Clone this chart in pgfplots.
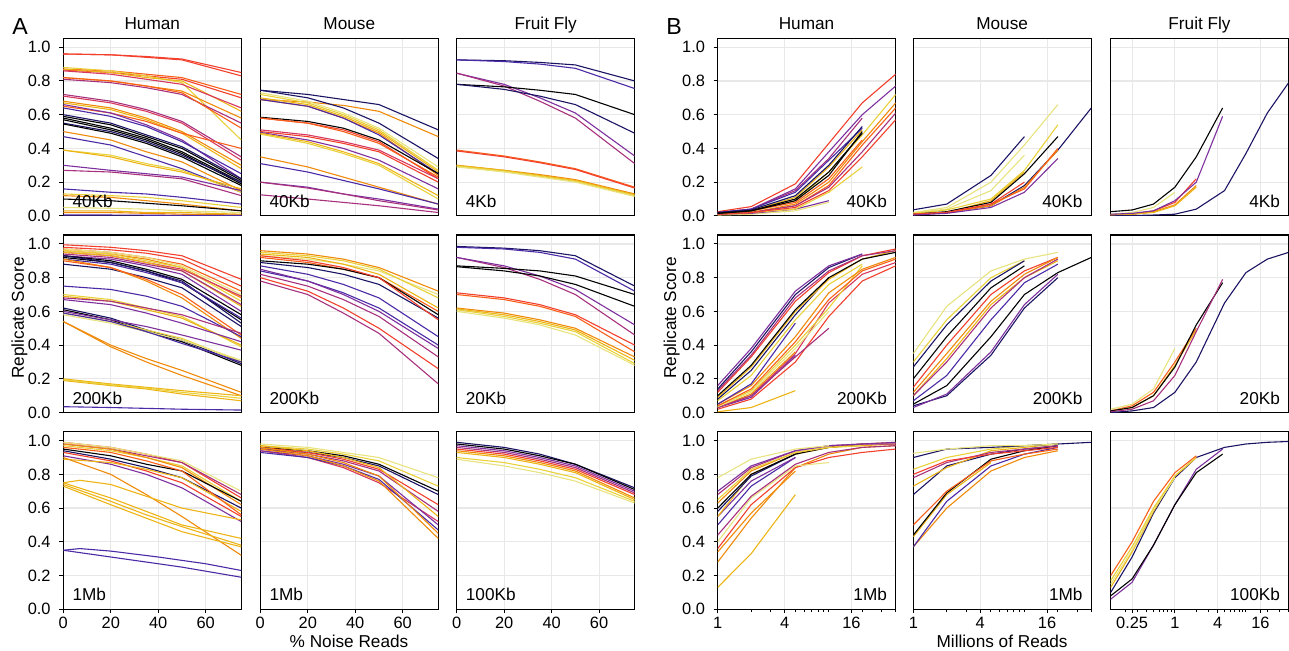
\documentclass[border=0pt]{standalone}
\usepackage{fontspec}
\setmainfont{Liberation Sans}
\usepackage{pgfplots}
\pgfplotsset{compat=1.18}
\definecolor{cK}{HTML}{000000}
\definecolor{cNv}{HTML}{1B1464}
\definecolor{cIn}{HTML}{4B2AA6}
\definecolor{cPu}{HTML}{7E2F9E}
\definecolor{cMg}{HTML}{A8317E}
\definecolor{cPk}{HTML}{D6385E}
\definecolor{cRd}{HTML}{F2402C}
\definecolor{cOr}{HTML}{FA5F1A}
\definecolor{cOg}{HTML}{F08A0A}
\definecolor{cGd}{HTML}{EDB416}
\definecolor{cYe}{HTML}{E9D13A}
\definecolor{cPy}{HTML}{E8E37F}
\newcommand\lab{\fontsize{8.6}{10}\selectfont}
\newcommand\tkf{\fontsize{8.2}{10}\selectfont}
\newcommand\A[6]{\addplot[#1] coordinates {(0,#2)(20,#3)(35,#4)(50,#5)(75,#6)};}
\pgfplotsset{
  base/.style={scale only axis, width=89pt, height=88.8pt, anchor=north west,
    ymin=0, ymax=1.053, ytick={0,0.2,0.4,0.6,0.8,1.0},
    grid=major, major grid style={line width=0.6pt, draw=black!9},
    axis line style={line width=0.6pt, black},
    tick align=outside, xtick pos=bottom, ytick pos=left,
    major tick length=2pt, minor tick length=1.2pt,
    tick style={line width=0.5pt, black},
    xticklabels={}, yticklabels={},
    xtick style={draw=none}, ytick style={draw=none},
    every axis plot/.append style={line width=0.55pt, mark=none, line join=round},
    /pgf/number format/assume math mode=true,
    yticklabel style={font=\tkf, inner sep=0pt, anchor=east, xshift=-4.15pt},
    xticklabel style={font=\tkf, inner sep=0pt, anchor=north, yshift=-1.6pt},
  },
  An/.style={xmin=0, xmax=75, xtick={0,20,40,60}},
  ylab/.style={yticklabels={0.0,0.2,0.4,0.6,0.8,1.0}, ytick style={draw=black}},
  xlabA/.style={xticklabels={0,20,40,60}, xtick style={draw=black}},
  xlabB/.style={xticklabels={1,4,16}, xtick style={draw=black}},
  xlabF/.style={xticklabels={0.25,1,4,16}, xtick style={draw=black}},
}
\newcommand\LL[1]{\node[anchor=south west, inner sep=0pt, font=\lab] at (rel axis cs:0,0) [xshift=4.4pt, yshift=4pt] {#1};}
\newcommand\LR[1]{\node[anchor=south east, inner sep=0pt, font=\lab] at (rel axis cs:1,0) [xshift=-4.2pt, yshift=4pt] {#1};}
\begin{document}
\begin{tikzpicture}
\path[use as bounding box] (0,0) rectangle (644.5pt,325.5pt);
% ---------------- Panel A, row 1 ----------------
\begin{axis}[base, An, ylab, at={(31.65pt,306.35pt)}]
\A{cRd}{0.96}{0.955}{0.945}{0.93}{0.85}
\A{cRd}{0.96}{0.955}{0.94}{0.925}{0.83}
\A{cOr}{0.87}{0.86}{0.84}{0.82}{0.72}
\A{cRd}{0.865}{0.85}{0.83}{0.81}{0.70}
\A{cYe}{0.88}{0.86}{0.83}{0.79}{0.45}
\A{cGd}{0.87}{0.85}{0.82}{0.80}{0.62}
\A{cPk}{0.86}{0.84}{0.81}{0.78}{0.64}
\A{cOg}{0.82}{0.80}{0.77}{0.74}{0.58}
\A{cMg}{0.81}{0.79}{0.76}{0.72}{0.55}
\A{cOr}{0.82}{0.80}{0.77}{0.73}{0.52}
\A{cMg}{0.72}{0.68}{0.63}{0.56}{0.35}
\A{cPk}{0.71}{0.67}{0.62}{0.55}{0.33}
\A{cOg}{0.68}{0.64}{0.58}{0.50}{0.30}
\A{cGd}{0.67}{0.63}{0.57}{0.49}{0.28}
\A{cOr}{0.65}{0.61}{0.56}{0.49}{0.40}
\A{cPu}{0.66}{0.61}{0.54}{0.45}{0.22}
\A{cIn}{0.64}{0.59}{0.53}{0.44}{0.25}
\A{cNv}{0.60}{0.55}{0.48}{0.41}{0.22}
\A{cK}{0.59}{0.54}{0.47}{0.40}{0.21}
\A{cK}{0.58}{0.52}{0.46}{0.38}{0.20}
\A{cK}{0.57}{0.51}{0.45}{0.37}{0.19}
\A{cNv}{0.55}{0.50}{0.44}{0.36}{0.20}
\A{cK}{0.545}{0.49}{0.43}{0.35}{0.18}
\A{cOg}{0.50}{0.45}{0.38}{0.32}{0.15}
\A{cIn}{0.47}{0.42}{0.35}{0.28}{0.14}
\A{cYe}{0.39}{0.36}{0.31}{0.27}{0.14}
\A{cGd}{0.39}{0.35}{0.30}{0.26}{0.16}
\A{cPu}{0.30}{0.27}{0.25}{0.23}{0.15}
\A{cMg}{0.27}{0.26}{0.24}{0.22}{0.12}
\A{cIn}{0.16}{0.14}{0.13}{0.11}{0.07}
\A{cYe}{0.13}{0.12}{0.11}{0.09}{0.05}
\A{cOg}{0.12}{0.11}{0.09}{0.07}{0.03}
\A{cK}{0.10}{0.09}{0.075}{0.06}{0.03}
\A{cPy}{0.05}{0.045}{0.04}{0.03}{0.02}
\A{cGd}{0.03}{0.03}{0.02}{0.02}{0.01}
\A{cOg}{0.02}{0.02}{0.015}{0.01}{0.005}
\A{cIn}{0.005}{0.005}{0.004}{0.003}{0.002}
\LL{40Kb}
\end{axis}
\begin{axis}[base, An, at={(130.15pt,306.35pt)}]
\A{cNv}{0.745}{0.72}{0.69}{0.66}{0.51}
\A{cOg}{0.69}{0.675}{0.655}{0.62}{0.47}
\A{cNv}{0.745}{0.70}{0.64}{0.55}{0.34}
\A{cPy}{0.73}{0.68}{0.61}{0.52}{0.29}
\A{cYe}{0.72}{0.67}{0.60}{0.51}{0.27}
\A{cGd}{0.70}{0.66}{0.59}{0.50}{0.26}
\A{cOg}{0.69}{0.65}{0.58}{0.49}{0.24}
\A{cIn}{0.69}{0.65}{0.58}{0.48}{0.25}
\A{cK}{0.585}{0.56}{0.52}{0.45}{0.25}
\A{cRd}{0.58}{0.55}{0.51}{0.44}{0.22}
\A{cOr}{0.58}{0.55}{0.50}{0.43}{0.23}
\A{cPk}{0.51}{0.48}{0.44}{0.39}{0.22}
\A{cRd}{0.50}{0.47}{0.43}{0.38}{0.20}
\A{cPu}{0.495}{0.45}{0.40}{0.33}{0.16}
\A{cGd}{0.49}{0.44}{0.38}{0.31}{0.12}
\A{cYe}{0.485}{0.43}{0.37}{0.30}{0.10}
\A{cOg}{0.35}{0.29}{0.23}{0.17}{0.07}
\A{cIn}{0.31}{0.26}{0.21}{0.16}{0.07}
\A{cPu}{0.20}{0.17}{0.13}{0.10}{0.04}
\A{cMg}{0.20}{0.165}{0.13}{0.09}{0.035}
\A{cMg}{0.125}{0.10}{0.08}{0.06}{0.02}
\LL{40Kb}
\end{axis}
\begin{axis}[base, An, at={(228.35pt,306.35pt)}]
\A{cNv}{0.925}{0.92}{0.91}{0.895}{0.80}
\A{cIn}{0.925}{0.915}{0.90}{0.875}{0.755}
\A{cPu}{0.846}{0.78}{0.70}{0.61}{0.355}
\A{cMg}{0.846}{0.77}{0.68}{0.58}{0.31}
\A{cK}{0.78}{0.765}{0.745}{0.72}{0.60}
\A{cNv}{0.78}{0.75}{0.71}{0.66}{0.49}
\A{cOr}{0.39}{0.355}{0.32}{0.28}{0.17}
\A{cRd}{0.385}{0.35}{0.315}{0.275}{0.165}
\A{cOg}{0.30}{0.27}{0.245}{0.215}{0.13}
\A{cGd}{0.30}{0.27}{0.24}{0.21}{0.125}
\A{cYe}{0.295}{0.265}{0.235}{0.205}{0.12}
\A{cPy}{0.29}{0.26}{0.23}{0.20}{0.115}
\LL{4Kb}
\end{axis}
% ---------------- Panel A, row 2 ----------------
\begin{axis}[base, An, ylab, at={(31.65pt,208pt)}]
\A{cRd}{0.995}{0.98}{0.96}{0.93}{0.79}
\A{cRd}{0.98}{0.965}{0.945}{0.91}{0.75}
\A{cOr}{0.97}{0.95}{0.92}{0.88}{0.72}
\A{cPy}{0.97}{0.95}{0.92}{0.87}{0.70}
\A{cOg}{0.96}{0.94}{0.91}{0.86}{0.68}
\A{cYe}{0.96}{0.94}{0.90}{0.86}{0.66}
\A{cPk}{0.95}{0.93}{0.89}{0.85}{0.69}
\A{cGd}{0.95}{0.93}{0.89}{0.84}{0.63}
\A{cMg}{0.94}{0.92}{0.88}{0.84}{0.64}
\A{cPu}{0.93}{0.91}{0.87}{0.82}{0.60}
\A{cK}{0.93}{0.90}{0.85}{0.79}{0.58}
\A{cK}{0.92}{0.89}{0.84}{0.77}{0.55}
\A{cNv}{0.93}{0.89}{0.84}{0.78}{0.53}
\A{cIn}{0.91}{0.88}{0.83}{0.77}{0.56}
\A{cNv}{0.88}{0.85}{0.80}{0.74}{0.51}
\A{cOg}{0.91}{0.86}{0.78}{0.68}{0.44}
\A{cOr}{0.90}{0.86}{0.79}{0.70}{0.46}
\A{cIn}{0.75}{0.73}{0.69}{0.63}{0.45}
\A{cYe}{0.70}{0.67}{0.62}{0.57}{0.39}
\A{cGd}{0.69}{0.66}{0.61}{0.56}{0.40}
\A{cMg}{0.68}{0.66}{0.62}{0.58}{0.47}
\A{cPu}{0.67}{0.64}{0.59}{0.53}{0.42}
\A{cNv}{0.62}{0.56}{0.49}{0.43}{0.29}
\A{cK}{0.61}{0.55}{0.48}{0.42}{0.28}
\A{cPu}{0.60}{0.55}{0.51}{0.46}{0.37}
\A{cYe}{0.59}{0.54}{0.49}{0.44}{0.30}
\A{cPy}{0.58}{0.53}{0.48}{0.43}{0.31}
\A{cIn}{0.59}{0.54}{0.48}{0.41}{0.30}
\A{cOg}{0.54}{0.40}{0.32}{0.25}{0.12}
\A{cOg}{0.54}{0.39}{0.30}{0.22}{0.10}
\A{cGd}{0.20}{0.17}{0.15}{0.13}{0.10}
\A{cGd}{0.19}{0.16}{0.14}{0.11}{0.07}
\A{cYe}{0.195}{0.165}{0.145}{0.12}{0.085}
\A{cIn}{0.035}{0.03}{0.025}{0.02}{0.015}
\LL{200Kb}
\end{axis}
\begin{axis}[base, An, at={(130.15pt,208pt)}]
\A{cOg}{0.96}{0.94}{0.91}{0.86}{0.72}
\A{cPy}{0.93}{0.91}{0.88}{0.84}{0.70}
\A{cYe}{0.95}{0.93}{0.90}{0.85}{0.68}
\A{cGd}{0.94}{0.92}{0.88}{0.82}{0.62}
\A{cOr}{0.92}{0.89}{0.85}{0.80}{0.60}
\A{cK}{0.90}{0.88}{0.85}{0.80}{0.58}
\A{cNv}{0.89}{0.86}{0.82}{0.76}{0.56}
\A{cRd}{0.93}{0.90}{0.86}{0.80}{0.55}
\A{cIn}{0.87}{0.82}{0.76}{0.68}{0.45}
\A{cIn}{0.84}{0.78}{0.71}{0.62}{0.40}
\A{cPu}{0.85}{0.78}{0.70}{0.60}{0.38}
\A{cMg}{0.82}{0.75}{0.67}{0.57}{0.33}
\A{cRd}{0.80}{0.72}{0.62}{0.50}{0.26}
\A{cMg}{0.78}{0.70}{0.59}{0.47}{0.17}
\LL{200Kb}
\end{axis}
\begin{axis}[base, An, at={(228.35pt,208pt)}]
\A{cNv}{0.985}{0.975}{0.96}{0.93}{0.75}
\A{cIn}{0.98}{0.97}{0.95}{0.91}{0.72}
\A{cMg}{0.92}{0.86}{0.79}{0.70}{0.46}
\A{cPu}{0.92}{0.87}{0.81}{0.73}{0.52}
\A{cK}{0.87}{0.855}{0.84}{0.81}{0.70}
\A{cK}{0.865}{0.84}{0.81}{0.76}{0.63}
\A{cRd}{0.71}{0.68}{0.64}{0.58}{0.40}
\A{cOr}{0.70}{0.67}{0.63}{0.57}{0.36}
\A{cOg}{0.62}{0.59}{0.55}{0.50}{0.33}
\A{cGd}{0.615}{0.58}{0.54}{0.49}{0.31}
\A{cYe}{0.61}{0.57}{0.53}{0.48}{0.29}
\A{cPy}{0.60}{0.56}{0.52}{0.46}{0.28}
\LL{20Kb}
\end{axis}
% ---------------- Panel A, row 3 ----------------
\begin{axis}[base, An, ylab, xlabA, at={(31.65pt,109.65pt)}]
\A{cRd}{0.99}{0.96}{0.92}{0.87}{0.66}
\A{cMg}{0.98}{0.95}{0.91}{0.87}{0.68}
\A{cPy}{0.99}{0.96}{0.92}{0.88}{0.70}
\A{cYe}{0.97}{0.94}{0.90}{0.85}{0.64}
\A{cOg}{0.98}{0.95}{0.90}{0.84}{0.62}
\A{cK}{0.95}{0.91}{0.86}{0.82}{0.64}
\A{cNv}{0.94}{0.89}{0.84}{0.78}{0.60}
\A{cRd}{0.93}{0.88}{0.82}{0.75}{0.55}
\A{cPu}{0.91}{0.86}{0.80}{0.72}{0.52}
\A{cGd}{0.89}{0.87}{0.83}{0.78}{0.58}
\A{cOr}{0.96}{0.93}{0.88}{0.82}{0.56}
\A{cOg}{0.90}{0.80}{0.68}{0.55}{0.32}
\addplot[cGd] coordinates {(0,0.75)(7,0.765)(20,0.74)(35,0.67)(50,0.60)(75,0.53)};
\A{cGd}{0.75}{0.66}{0.58}{0.50}{0.42}
\A{cGd}{0.74}{0.64}{0.56}{0.49}{0.38}
\A{cGd}{0.73}{0.62}{0.54}{0.46}{0.37}
\addplot[cIn] coordinates {(0,0.35)(7,0.36)(20,0.345)(40,0.31)(60,0.27)(75,0.23)};
\A{cIn}{0.35}{0.31}{0.28}{0.25}{0.19}
\LL{1Mb}
\end{axis}
\begin{axis}[base, An, xlabA, at={(130.15pt,109.65pt)}]
\A{cPy}{0.98}{0.96}{0.93}{0.90}{0.78}
\A{cYe}{0.97}{0.95}{0.92}{0.88}{0.73}
\A{cK}{0.96}{0.94}{0.91}{0.86}{0.70}
\A{cNv}{0.95}{0.93}{0.90}{0.85}{0.68}
\A{cRd}{0.96}{0.93}{0.89}{0.83}{0.62}
\A{cMg}{0.95}{0.92}{0.88}{0.82}{0.58}
\A{cGd}{0.97}{0.94}{0.90}{0.84}{0.55}
\A{cPk}{0.94}{0.90}{0.84}{0.75}{0.52}
\A{cPu}{0.94}{0.91}{0.86}{0.79}{0.50}
\A{cIn}{0.93}{0.90}{0.85}{0.77}{0.47}
\A{cOg}{0.96}{0.92}{0.87}{0.79}{0.45}
\A{cOg}{0.95}{0.91}{0.85}{0.76}{0.42}
\LL{1Mb}
\end{axis}
\begin{axis}[base, An, xlabA, at={(228.35pt,109.65pt)}]
\A{cNv}{0.99}{0.96}{0.92}{0.86}{0.72}
\A{cK}{0.98}{0.95}{0.91}{0.86}{0.71}
\A{cPu}{0.97}{0.94}{0.90}{0.85}{0.70}
\A{cMg}{0.96}{0.93}{0.89}{0.84}{0.69}
\A{cRd}{0.95}{0.92}{0.88}{0.83}{0.68}
\A{cOg}{0.94}{0.91}{0.87}{0.82}{0.66}
\A{cGd}{0.93}{0.90}{0.86}{0.81}{0.65}
\A{cYe}{0.90}{0.87}{0.83}{0.78}{0.64}
\A{cPy}{0.89}{0.85}{0.81}{0.76}{0.63}
\LL{100Kb}
\end{axis}
% ---------------- Panel B, row 1 ----------------
\begin{axis}[base, xmode=log, xmin=1, xmax=40, xtick={1,4,16}, minor xtick={2,3,5,6,7,8,9,10,20,30,40}, ylab, at={(358.85pt,306.35pt)}]
\addplot[cRd] coordinates {(1,0.025)(2,0.055)(5,0.19)(10,0.43)(20,0.67)(40,0.84)};
\addplot[cPu] coordinates {(1,0.02)(2,0.04)(5,0.16)(10,0.38)(20,0.60)(40,0.77)};
\addplot[cPy] coordinates {(1,0.005)(2,0.01)(5,0.03)(10,0.08)};
\addplot[cPu] coordinates {(1,0.01)(2,0.015)(5,0.04)(10,0.09)};
\addplot[cYe] coordinates {(1,0.01)(2,0.02)(5,0.04)(10,0.14)(20,0.29)};
\addplot[cYe] coordinates {(1,0.01)(2,0.025)(5,0.09)(10,0.26)(20,0.48)(40,0.72)};
\addplot[cOg] coordinates {(1,0.01)(2,0.02)(5,0.07)(10,0.20)(20,0.44)(40,0.67)};
\addplot[cOr] coordinates {(1,0.01)(2,0.02)(5,0.06)(10,0.18)(20,0.42)(40,0.64)};
\addplot[cMg] coordinates {(1,0.01)(2,0.02)(5,0.06)(10,0.17)(20,0.38)(40,0.61)};
\addplot[cRd] coordinates {(1,0.01)(2,0.02)(5,0.05)(10,0.15)(20,0.35)(40,0.57)};
\addplot[cOr] coordinates {(1,0.015)(2,0.03)(5,0.08)(10,0.22)(20,0.45)};
\addplot[cGd] coordinates {(1,0.015)(2,0.03)(5,0.11)(10,0.29)(20,0.51)};
\addplot[cMg] coordinates {(1,0.02)(2,0.04)(5,0.15)(10,0.34)(20,0.58)};
\addplot[cIn] coordinates {(1,0.02)(2,0.04)(5,0.14)(10,0.33)(20,0.52)};
\addplot[cNv] coordinates {(1,0.02)(2,0.035)(5,0.12)(10,0.30)(20,0.53)};
\addplot[cK] coordinates {(1,0.015)(2,0.03)(5,0.09)(10,0.24)(20,0.50)};
\addplot[cK] coordinates {(1,0.015)(2,0.03)(5,0.10)(10,0.26)(20,0.49)};
\LR{40Kb}
\end{axis}
\begin{axis}[base, xmode=log, xmin=1, xmax=40, xtick={1,4,16}, minor xtick={2,3,5,6,7,8,9,10,20,30,40}, at={(456.65pt,306.35pt)}]
\addplot[cNv] coordinates {(1,0.036)(2,0.07)(5,0.24)(10,0.47)};
\addplot[cPy] coordinates {(1,0.02)(2,0.05)(5,0.20)(10,0.42)(20,0.66)};
\addplot[cPy] coordinates {(1,0.02)(2,0.04)(5,0.15)(10,0.36)};
\addplot[cYe] coordinates {(1,0.015)(2,0.035)(5,0.10)(10,0.27)(20,0.54)};
\addplot[cGd] coordinates {(1,0.01)(2,0.02)(5,0.09)(10,0.26)};
\addplot[cK] coordinates {(1,0.01)(2,0.025)(5,0.08)(10,0.25)(20,0.47)};
\addplot[cNv] coordinates {(1,0.01)(2,0.02)(5,0.06)(10,0.18)(20,0.39)(40,0.64)};
\addplot[cOg] coordinates {(1,0.01)(2,0.02)(5,0.06)(10,0.17)(20,0.39)};
\addplot[cOr] coordinates {(1,0.01)(2,0.02)(5,0.07)(10,0.16)(20,0.40)};
\addplot[cRd] coordinates {(1,0.01)(2,0.02)(5,0.07)(10,0.20)};
\addplot[cPu] coordinates {(1,0.005)(2,0.015)(5,0.05)(10,0.14)(20,0.34)};
\LR{40Kb}
\end{axis}
\begin{axis}[base, xmode=log, xmin=0.125, xmax=40, xtick={0.25,1,4,16}, minor xtick={0.2,0.3,0.4,0.5,0.6,0.7,0.8,0.9,2,3,5,6,7,8,9,10,20,30,40}, at={(555.35pt,306.35pt)}]
\addplot[cPy] coordinates {(0.125,0.01)(0.25,0.02)(0.5,0.05)(1,0.14)};
\addplot[cRd] coordinates {(0.125,0.005)(0.25,0.01)(0.5,0.03)(1,0.08)(2,0.22)};
\addplot[cOg] coordinates {(0.125,0.005)(0.25,0.01)(0.5,0.025)(1,0.065)(2,0.18)};
\addplot[cGd] coordinates {(0.125,0.005)(0.25,0.01)(0.5,0.02)(1,0.06)(2,0.17)};
\addplot[cPu] coordinates {(0.125,0.01)(0.25,0.015)(0.5,0.03)(1,0.09)(2,0.20)(4.7,0.59)};
\addplot[cK] coordinates {(0.125,0.025)(0.25,0.035)(0.5,0.07)(1,0.17)(2,0.35)(4.7,0.64)};
\addplot[cNv] coordinates {(0.125,0.0)(0.25,0.002)(0.5,0.005)(1,0.01)(2,0.04)(5,0.15)(10,0.37)(20,0.61)(40,0.79)};
\LR{4Kb}
\end{axis}
% ---------------- Panel B, row 2 ----------------
\begin{axis}[base, xmode=log, xmin=1, xmax=40, xtick={1,4,16}, minor xtick={2,3,5,6,7,8,9,10,20,30,40}, ylab, at={(358.85pt,208pt)}]
\addplot[cGd] coordinates {(1,0.005)(2,0.03)(5,0.13)};
\addplot[cRd] coordinates {(1,0.02)(2,0.08)(5,0.30)(10,0.57)(20,0.78)(40,0.87)};
\addplot[cPk] coordinates {(1,0.03)(2,0.10)(5,0.35)(10,0.65)(20,0.82)(40,0.89)};
\addplot[cPu] coordinates {(1,0.03)(2,0.09)(5,0.34)};
\addplot[cOg] coordinates {(1,0.03)(2,0.11)(5,0.36)};
\addplot[cMg] coordinates {(1,0.03)(2,0.10)(5,0.33)(10,0.50)};
\addplot[cPy] coordinates {(1,0.035)(2,0.12)(5,0.38)(10,0.60)};
\addplot[cYe] coordinates {(1,0.04)(2,0.13)(5,0.40)(10,0.62)(20,0.87)};
\addplot[cOr] coordinates {(1,0.04)(2,0.14)(5,0.42)(10,0.67)(20,0.84)(40,0.91)};
\addplot[cOg] coordinates {(1,0.05)(2,0.16)(5,0.45)(10,0.71)(20,0.85)(40,0.92)};
\addplot[cIn] coordinates {(1,0.05)(2,0.17)(5,0.53)};
\addplot[cYe] coordinates {(1,0.07)(2,0.22)(5,0.55)(10,0.76)(20,0.88)};
\addplot[cNv] coordinates {(1,0.08)(2,0.25)(5,0.58)(10,0.80)};
\addplot[cGd] coordinates {(1,0.09)(2,0.27)(5,0.60)(10,0.79)(20,0.91)(40,0.96)};
\addplot[cK] coordinates {(1,0.10)(2,0.28)(5,0.61)(10,0.80)(20,0.91)(40,0.95)};
\addplot[cRd] coordinates {(1,0.12)(2,0.33)(5,0.66)(10,0.83)(20,0.93)(40,0.97)};
\addplot[cMg] coordinates {(1,0.13)(2,0.34)(5,0.68)(10,0.84)(20,0.93)(40,0.96)};
\addplot[cNv] coordinates {(1,0.14)(2,0.36)(5,0.70)(10,0.86)(20,0.94)};
\addplot[cPu] coordinates {(1,0.16)(2,0.38)(5,0.72)(10,0.87)(20,0.94)};
\LR{200Kb}
\end{axis}
\begin{axis}[base, xmode=log, xmin=1, xmax=40, xtick={1,4,16}, minor xtick={2,3,5,6,7,8,9,10,20,30,40}, at={(456.65pt,208pt)}]
\addplot[cPy] coordinates {(1,0.35)(2,0.63)(5,0.84)(10,0.91)(20,0.95)};
\addplot[cYe] coordinates {(1,0.30)(2,0.55)(5,0.80)(10,0.90)};
\addplot[cNv] coordinates {(1,0.27)(2,0.52)(5,0.78)(10,0.90)};
\addplot[cK] coordinates {(1,0.20)(2,0.45)(5,0.74)(10,0.87)};
\addplot[cRd] coordinates {(1,0.15)(2,0.40)(5,0.70)(10,0.84)(20,0.92)};
\addplot[cOg] coordinates {(1,0.12)(2,0.35)(5,0.66)(10,0.82)(20,0.92)};
\addplot[cGd] coordinates {(1,0.10)(2,0.32)(5,0.64)(10,0.80)(20,0.90)};
\addplot[cMg] coordinates {(1,0.10)(2,0.30)(5,0.62)(10,0.80)(20,0.91)};
\addplot[cIn] coordinates {(1,0.07)(2,0.22)(5,0.55)(10,0.77)(20,0.88)};
\addplot[cK] coordinates {(1,0.05)(2,0.16)(5,0.45)(10,0.70)(20,0.83)(40,0.92)};
\addplot[cNv] coordinates {(1,0.04)(2,0.10)(5,0.34)(10,0.62)(20,0.80)};
\addplot[cPu] coordinates {(1,0.03)(2,0.11)(5,0.36)(10,0.64)(20,0.82)};
\LR{200Kb}
\end{axis}
\begin{axis}[base, xmode=log, xmin=0.125, xmax=40, xtick={0.25,1,4,16}, minor xtick={0.2,0.3,0.4,0.5,0.6,0.7,0.8,0.9,2,3,5,6,7,8,9,10,20,30,40}, at={(555.35pt,208pt)}]
\addplot[cPy] coordinates {(0.125,0.02)(0.25,0.05)(0.5,0.14)(1,0.38)};
\addplot[cOr] coordinates {(0.125,0.01)(0.25,0.04)(0.5,0.12)(1,0.30)(2,0.50)};
\addplot[cGd] coordinates {(0.125,0.01)(0.25,0.03)(0.5,0.10)(1,0.28)(2,0.49)};
\addplot[cK] coordinates {(0.125,0.01)(0.25,0.03)(0.5,0.10)(1,0.27)(2,0.52)(4.7,0.77)};
\addplot[cMg] coordinates {(0.125,0.005)(0.25,0.02)(0.5,0.07)(1,0.22)(2,0.48)(4.7,0.79)};
\addplot[cNv] coordinates {(0.125,0.0)(0.25,0.01)(0.5,0.03)(1,0.12)(2,0.30)(5,0.65)(10,0.83)(20,0.91)(40,0.95)};
\LR{20Kb}
\end{axis}
% ---------------- Panel B, row 3 ----------------
\begin{axis}[base, xmode=log, xmin=1, xmax=40, xtick={1,4,16}, minor xtick={2,3,5,6,7,8,9,10,20,30,40}, ylab, xlabB, at={(358.85pt,109.65pt)}]
\addplot[cGd] coordinates {(1,0.13)(2,0.33)(5,0.68)};
\addplot[cOg] coordinates {(1,0.28)(2,0.54)(5,0.84)(10,0.92)(20,0.96)(40,0.97)};
\addplot[cOg] coordinates {(1,0.34)(2,0.57)(5,0.82)};
\addplot[cRd] coordinates {(1,0.36)(2,0.62)(5,0.84)(10,0.90)(20,0.93)(40,0.95)};
\addplot[cPy] coordinates {(1,0.40)(2,0.66)(5,0.85)(10,0.87)};
\addplot[cMg] coordinates {(1,0.44)(2,0.67)(5,0.86)(10,0.93)(20,0.96)(40,0.97)};
\addplot[cIn] coordinates {(1,0.50)(2,0.73)(5,0.90)};
\addplot[cPu] coordinates {(1,0.55)(2,0.76)(5,0.90)};
\addplot[cGd] coordinates {(1,0.55)(2,0.80)(5,0.92)(10,0.96)(20,0.97)(40,0.98)};
\addplot[cNv] coordinates {(1,0.58)(2,0.79)(5,0.92)};
\addplot[cK] coordinates {(1,0.60)(2,0.80)(5,0.92)(10,0.96)(20,0.98)};
\addplot[cOg] coordinates {(1,0.63)(2,0.82)(5,0.93)(10,0.96)(20,0.98)(40,0.99)};
\addplot[cYe] coordinates {(1,0.65)(2,0.83)(5,0.93)(10,0.96)(20,0.97)};
\addplot[cMg] coordinates {(1,0.68)(2,0.84)(5,0.94)(10,0.97)(20,0.98)(40,0.98)};
\addplot[cPu] coordinates {(1,0.70)(2,0.85)(5,0.94)(10,0.97)(20,0.98)(40,0.99)};
\addplot[cPy] coordinates {(1,0.78)(2,0.89)(5,0.95)(10,0.97)};
\LR{1Mb}
\end{axis}
\begin{axis}[base, xmode=log, xmin=1, xmax=40, xtick={1,4,16}, minor xtick={2,3,5,6,7,8,9,10,20,30,40}, xlabB, at={(456.65pt,109.65pt)}]
\addplot[cOg] coordinates {(1,0.37)(2,0.60)(5,0.82)(10,0.90)(20,0.94)};
\addplot[cIn] coordinates {(1,0.37)(2,0.64)(5,0.85)(10,0.92)(20,0.96)};
\addplot[cGd] coordinates {(1,0.43)(2,0.68)(5,0.87)};
\addplot[cK] coordinates {(1,0.44)(2,0.69)(5,0.89)(10,0.94)(20,0.97)};
\addplot[cOr] coordinates {(1,0.50)(2,0.70)(5,0.88)(10,0.92)(20,0.95)};
\addplot[cNv] coordinates {(1,0.68)(2,0.85)(5,0.92)(10,0.95)(20,0.97)};
\addplot[cGd] coordinates {(1,0.73)(2,0.84)(5,0.94)(10,0.96)(20,0.98)};
\addplot[cMg] coordinates {(1,0.78)(2,0.87)(5,0.93)(10,0.95)(20,0.97)};
\addplot[cRd] coordinates {(1,0.80)(2,0.88)(5,0.92)(10,0.94)(20,0.96)};
\addplot[cYe] coordinates {(1,0.83)(2,0.90)(5,0.95)(10,0.97)(20,0.98)};
\addplot[cNv] coordinates {(1,0.90)(2,0.95)(5,0.96)(10,0.97)(20,0.98)(40,0.99)};
\addplot[cPy] coordinates {(1,0.925)(2,0.95)(5,0.97)(10,0.97)(20,0.98)};
\LR{1Mb}
\end{axis}
\begin{axis}[base, xmode=log, xmin=0.125, xmax=40, xtick={0.25,1,4,16}, minor xtick={0.2,0.3,0.4,0.5,0.6,0.7,0.8,0.9,2,3,5,6,7,8,9,10,20,30,40}, xlabF, at={(555.35pt,109.65pt)}]
\addplot[cPu] coordinates {(0.125,0.06)(0.25,0.16)(0.5,0.38)(1,0.62)(2,0.83)(4.7,0.95)};
\addplot[cK] coordinates {(0.125,0.08)(0.25,0.18)(0.5,0.38)(1,0.62)(2,0.81)(4.7,0.92)};
\addplot[cNv] coordinates {(0.125,0.10)(0.25,0.31)(0.5,0.57)(1,0.78)(2,0.90)(5,0.96)(10,0.98)(20,0.99)(40,0.995)};
\addplot[cGd] coordinates {(0.125,0.13)(0.25,0.34)(0.5,0.58)(1,0.79)(2,0.90)};
\addplot[cPy] coordinates {(0.125,0.15)(0.25,0.35)(0.5,0.59)(1,0.78)};
\addplot[cYe] coordinates {(0.125,0.17)(0.25,0.37)(0.5,0.60)(1,0.79)(2,0.90)};
\addplot[cOr] coordinates {(0.125,0.20)(0.25,0.40)(0.5,0.64)(1,0.81)(2,0.91)};
\LR{100Kb}
\end{axis}
% ---------------- labels ----------------
\node[anchor=base, font=\fontsize{11.6}{13}\selectfont, inner sep=0pt] at (10pt,308pt) {A};
\node[anchor=base, font=\fontsize{11.6}{13}\selectfont, inner sep=0pt] at (337pt,308pt) {B};
\foreach \x/\t in {76.15/Human,174.65/Mouse,272.85/Fruit Fly,403.25/Human,501.05/Mouse,599.75/Fruit Fly}
  \node[anchor=base, font=\lab, inner sep=0pt] at (\x pt,310.85pt) {\t};
\node[anchor=base, rotate=90, font=\lab, inner sep=0pt] at (12pt,166.5pt) {Replicate Score};
\node[anchor=base, rotate=90, font=\lab, inner sep=0pt] at (338pt,166.5pt) {Replicate Score};
\node[anchor=base, font=\lab, inner sep=0pt] at (174.5pt,1.5pt) {\% Noise Reads};
\node[anchor=base, font=\lab, inner sep=0pt] at (501.05pt,1.5pt) {Millions of Reads};
\end{tikzpicture}
\end{document}
